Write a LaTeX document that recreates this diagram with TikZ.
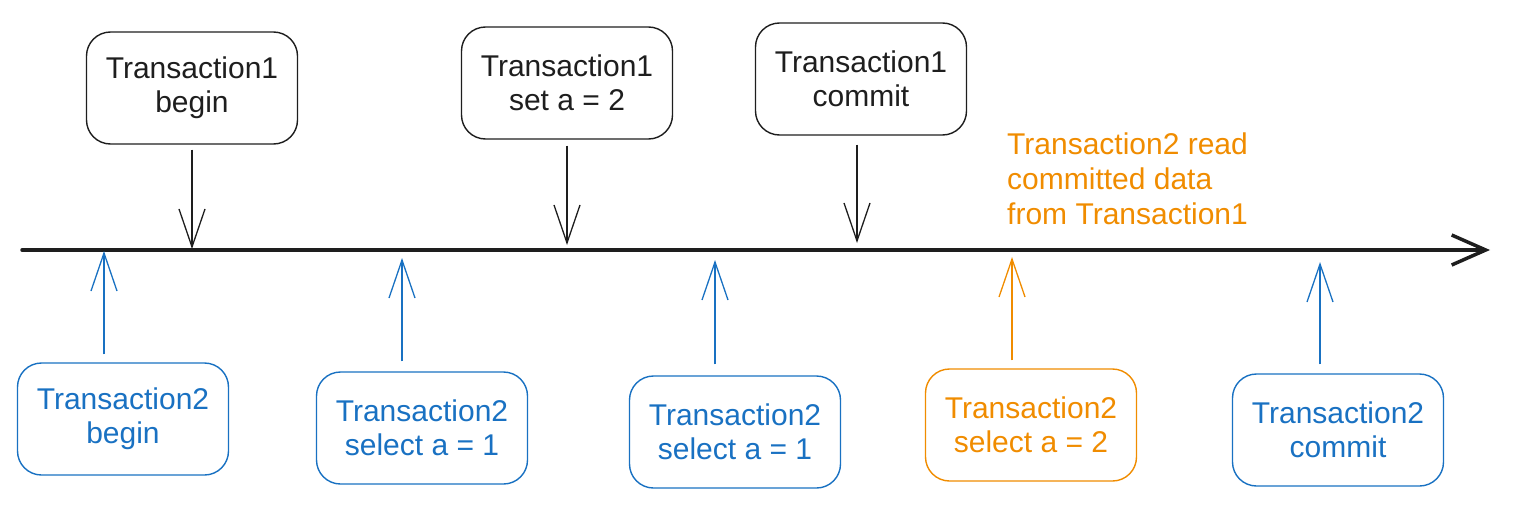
\documentclass[tikz,border=0pt]{standalone}
\usepackage{fontspec}
\setmainfont{Liberation Sans}
\usetikzlibrary{arrows.meta}
\definecolor{inkblack}{HTML}{1E1E1E}
\definecolor{inkblue}{HTML}{1971C2}
\definecolor{inkorange}{HTML}{F08C00}
\tikzset{
  evbox/.style={draw, line width=1.4pt, rounded corners=24pt, minimum width=211pt,
    minimum height=112pt, align=center, inner sep=0pt,
    font=\fontsize{30}{34}\selectfont},
  topbox/.style={evbox, draw=inkblack, text=inkblack},
  bluebox/.style={evbox, draw=inkblue, text=inkblue},
  orangebox/.style={evbox, draw=inkorange, text=inkorange},
  evarrow/.style={line width=1.3pt, -{Straight Barb[length=38pt,width=26pt,line width=1.3pt]}},
}
\begin{document}
\begin{tikzpicture}[x=1pt,y=-1pt]
\useasboundingbox (0,0) rectangle (1522,506);
% timeline
\coordinate (tl0) at (22,250);
\coordinate (tl1) at (1490,250);
\draw[line width=3.5pt, inkblack, line cap=round,
  -{Straight Barb[length=34pt,width=30pt,line width=3.5pt]}] (tl0) -- (tl1);
% top boxes
\node[topbox] (a1) at (192,88) {Transaction1\\begin};
\node[topbox] (a2) at (567,83) {Transaction1\\set a = 2};
\node[topbox] (a3) at (861,79) {Transaction1\\commit};
\coordinate (ta1) at (192,249);
\coordinate (ta2) at (567,245);
\coordinate (ta3) at (857,243);
\draw[evarrow, inkblack, shorten <=5pt] (a1.south -| ta1) -- (ta1);
\draw[evarrow, inkblack, shorten <=6pt] (a2.south -| ta2) -- (ta2);
\draw[evarrow, inkblack, shorten <=9pt] (a3.south -| ta3) -- (ta3);
% annotation
\node[anchor=west, inner sep=0pt, align=left, text=inkorange,
  font=\fontsize{30}{35}\selectfont] (note) at (1007,179)
  {Transaction2 read\\committed data\\from Transaction1};
% bottom boxes
\node[bluebox] (b1) at (123,419) {Transaction2\\begin};
\node[bluebox] (b2) at (422,428) {Transaction2\\select a = 1};
\node[bluebox] (b3) at (735,432) {Transaction2\\select a = 1};
\node[orangebox] (b4) at (1031,425) {Transaction2\\select a = 2};
\node[bluebox] (b5) at (1338,430) {Transaction2\\commit};
\coordinate (tb1) at (104,251);
\coordinate (tb2) at (402,258);
\coordinate (tb3) at (715,260);
\coordinate (tb4) at (1012,257);
\coordinate (tb5) at (1320,262);
\draw[evarrow, inkblue, shorten <=8pt] (b1.north -| tb1) -- (tb1);
\draw[evarrow, inkblue, shorten <=10pt] (b2.north -| tb2) -- (tb2);
\draw[evarrow, inkblue, shorten <=11pt] (b3.north -| tb3) -- (tb3);
\draw[evarrow, inkorange, shorten <=8pt] (b4.north -| tb4) -- (tb4);
\draw[evarrow, inkblue, shorten <=9pt] (b5.north -| tb5) -- (tb5);
\end{tikzpicture}
\end{document}
